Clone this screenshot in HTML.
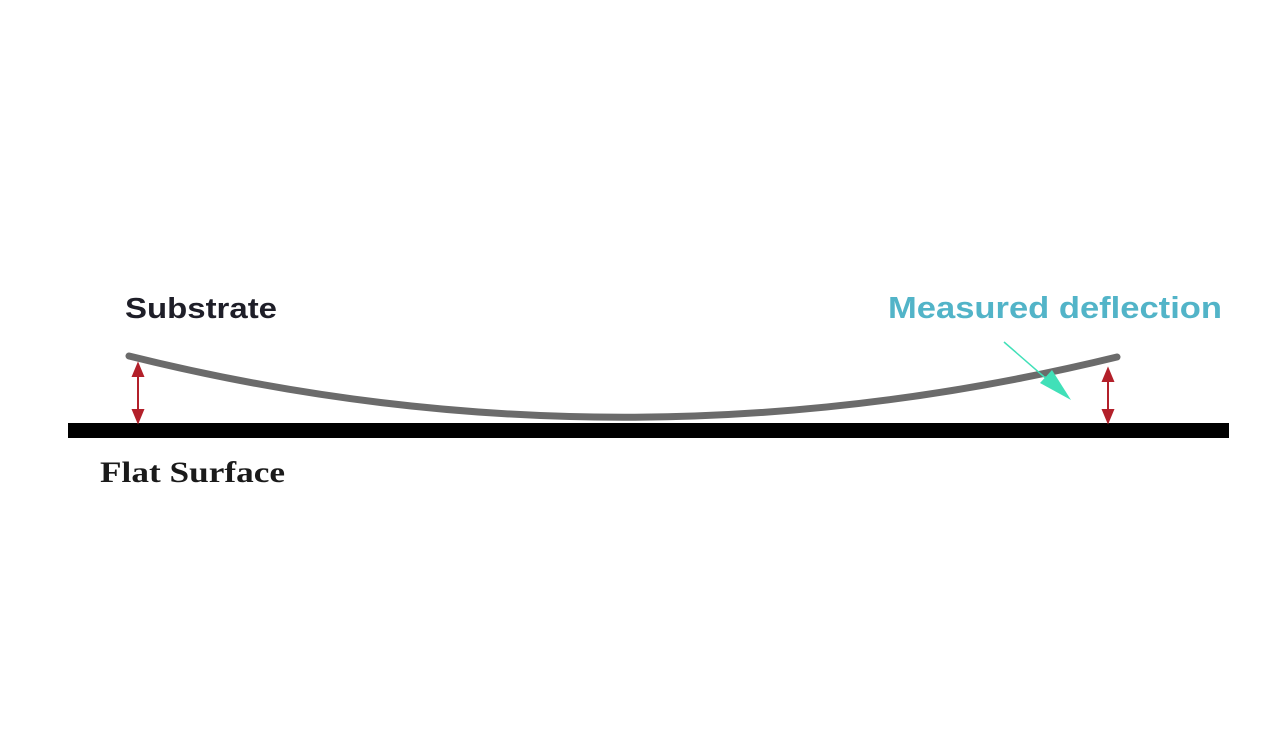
<!DOCTYPE html>
<html><head><style>
html,body{margin:0;padding:0;background:#fff;}
</style></head><body>
<svg width="1282" height="750" xmlns="http://www.w3.org/2000/svg">
<rect width="1282" height="750" fill="#fff"/>
<text x="125" y="318" font-family="Liberation Sans, sans-serif" font-weight="bold" font-size="29" fill="#1e1e28" textLength="152" lengthAdjust="spacingAndGlyphs">Substrate</text>
<text x="888" y="318" font-family="Liberation Sans, sans-serif" font-weight="bold" font-size="31" fill="#52b4c8" textLength="334" lengthAdjust="spacingAndGlyphs">Measured deflection</text>
<text x="100" y="482" font-family="Liberation Serif, serif" font-weight="bold" font-size="30" fill="#1a1a1a" textLength="185" lengthAdjust="spacingAndGlyphs">Flat Surface</text>
<rect x="68" y="423" width="1161" height="15" fill="#000"/>
<path d="M129,356 Q620,478 1117,357" fill="none" stroke="#6b6b6b" stroke-width="7" stroke-linecap="round"/>
<g stroke="#b3202a" stroke-width="2" fill="#b3202a">
<line x1="138" y1="372" x2="138" y2="418"/>
<polygon points="138,364 133,376 143,376"/>
<polygon points="138,422 133,410 143,410"/>
<line x1="1108" y1="377" x2="1108" y2="418"/>
<polygon points="1108,369 1103,381 1113,381"/>
<polygon points="1108,422 1103,410 1113,410"/>
</g>
<line x1="1004" y1="342" x2="1050" y2="382" stroke="#40e0b8" stroke-width="1.5"/>
<polygon points="1071,400 1040,383 1052,370" fill="#40e0b8"/>
</svg>
</body></html>
